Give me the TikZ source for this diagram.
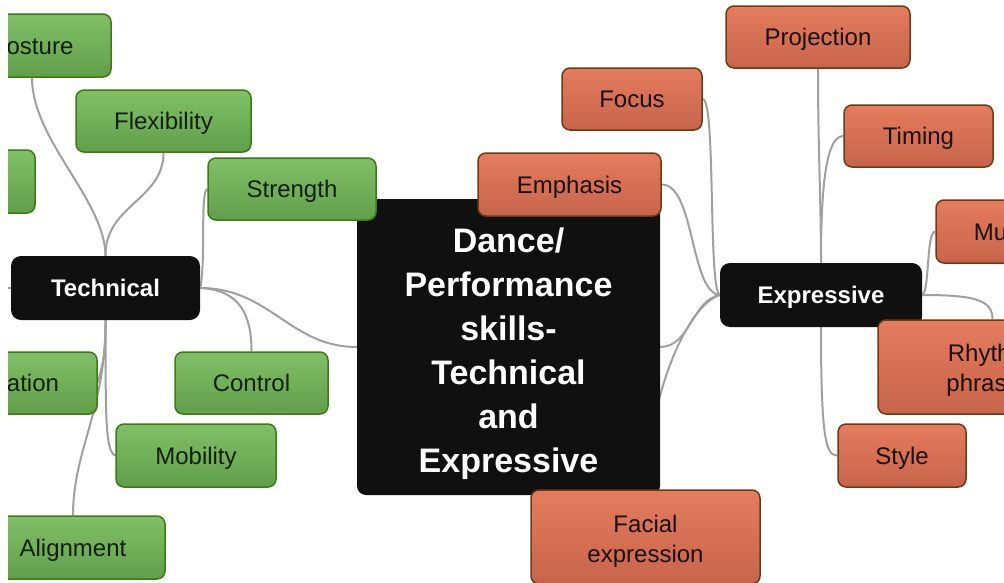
\documentclass[tikz,border=0pt]{standalone}
\usepackage{fontspec}
\setmainfont{Liberation Sans}
\definecolor{gtop}{HTML}{80C068}
\definecolor{gbot}{HTML}{629E4A}
\definecolor{gborder}{HTML}{3E7B12}
\definecolor{gtext}{HTML}{14200C}
\definecolor{otop}{HTML}{E57C5E}
\definecolor{obot}{HTML}{C6644A}
\definecolor{oborder}{HTML}{6B3C14}
\definecolor{otext}{HTML}{1A100E}
\definecolor{kfill}{HTML}{101010}
\definecolor{linegray}{HTML}{A0A0A0}
\pgfdeclarelayer{bg}
\pgfsetlayers{bg,main}
\begin{document}
\begin{tikzpicture}[x=1pt,y=-1pt,
  box/.style={rounded corners=8pt, line width=1.5pt, inner sep=0pt, align=center,
    font=\fontsize{24}{30}\selectfont},
  oneline/.style={text height=21pt, text depth=4pt},
  gbox/.style={box, draw=gborder, top color=gtop, bottom color=gbot, text=gtext},
  obox/.style={box, draw=oborder, top color=otop, bottom color=obot, text=otext},
  kbox/.style={rounded corners=10pt, fill=kfill, inner sep=0pt, text=white, align=center,
    font=\fontsize{24}{30}\selectfont\bfseries},
  link/.style={draw=linegray, line width=2pt}]
\useasboundingbox (0,0) rectangle (1004,582);
\begin{scope}
\clip (8,-20) rectangle (1004,582);
% technical side
\node[gbox, oneline, minimum width=158pt, minimum height=63pt] (posture) at (32,45.5) {Posture};
\node[gbox, oneline, minimum width=175pt, minimum height=62pt] (flex) at (163.5,121) {Flexibility};
\node[gbox, minimum width=135pt, minimum height=63pt] (hidden) at (-32.5,181.5) {};
\node[kbox, oneline, minimum width=189pt, minimum height=64pt] (tech) at (105.5,288) {Technical};
\node[gbox, oneline, minimum width=212pt, minimum height=62pt] (coord) at (-9,383) {Coordination};
\node[gbox, oneline, minimum width=153pt, minimum height=62pt] (control) at (251.5,383) {Control};
\node[gbox, oneline, minimum width=160pt, minimum height=63pt] (mob) at (196,455.5) {Mobility};
\node[gbox, oneline, minimum width=184pt, minimum height=63pt] (align) at (73,547.5) {Alignment};
% centre
\node[kbox, rounded corners=9pt, minimum width=303pt, minimum height=296pt,
  font=\fontsize{34}{44}\selectfont\bfseries] (center) at (508.5,347)
  {\rule{0pt}{38pt}Dance/\\Performance\\skills-\\Technical\\and\\Expressive};
\node[gbox, oneline, minimum width=168pt, minimum height=62pt] (strength) at (292,189) {Strength};
% expressive side
\node[obox, oneline, minimum width=184pt, minimum height=62pt] (proj) at (818,37) {Projection};
\node[obox, oneline, minimum width=140pt, minimum height=62pt] (focus) at (632,99) {Focus};
\node[obox, oneline, minimum width=149pt, minimum height=62pt] (timing) at (918.5,136) {Timing};
\node[obox, oneline, minimum width=183pt, minimum height=63pt] (emph) at (569.5,184.5) {Emphasis};
\node[obox, oneline, minimum width=181pt, minimum height=63pt] (music) at (1026.5,231.5) {Musicality};
\node[kbox, oneline, minimum width=202pt, minimum height=64pt] (expr) at (821,295) {Expressive};
\node[obox, minimum width=229pt, minimum height=94pt] (rhythm) at (992.5,367) {\rule{0pt}{24pt}Rhythm/\\phrasing};
\node[obox, oneline, minimum width=128pt, minimum height=63pt] (style) at (902,455.5) {Style};
\node[obox, minimum width=229pt, minimum height=94pt] (facial) at (645.5,537) {\rule{0pt}{25pt}Facial\\expression};
\coordinate (offleft) at (-40,288);
\end{scope}
\begin{pgfonlayer}{bg}
\fill[white] (0,0) rectangle (1004,582);
\clip (8,-20) rectangle (1004,582);
% technical connectors
\draw[link] (tech.north) .. controls (105,200) and (32,140) .. (posture.south);
\draw[link] (tech.north) .. controls (105,205) and (163.5,200) .. (flex.south);
\draw[link] (tech.east) .. controls (206,260) and (200,192) .. (strength.west);
\draw[link] (tech.east) .. controls (270,288) and (290,347) .. (center.west);
\draw[link] (tech.east) .. controls (240,290) and (251.5,315) .. (control.north);
\draw[link] (tech.south) .. controls (106,360) and (100,372) .. (coord.east);
\draw[link] (tech.south) .. controls (106,400) and (104,452) .. (mob.west);
\draw[link] (tech.south) .. controls (106,410) and (73,450) .. (align.north);
\draw[link] (tech.west) -- (offleft);
% expressive connectors
\draw[link] (emph.east) .. controls (695,185) and (690,292) .. (expr.west);
\draw[link] (focus.east) .. controls (716,100) and (708,290) .. (expr.west);
\draw[link] (center.east) .. controls (690,347) and (692,300) .. (expr.west);
\draw[link] (facial.north) .. controls (650,390) and (688,305) .. (expr.west);
\draw[link] (proj.south) .. controls (818,150) and (821,200) .. (expr.north);
\draw[link] (timing.west) .. controls (824,136) and (821,200) .. (expr.north);
\draw[link] (music.west) .. controls (926,232) and (930,290) .. (expr.east);
\draw[link] (expr.east) .. controls (975,295) and (992.5,300) .. (rhythm.north);
\draw[link] (expr.south) .. controls (821,440) and (826,455.5) .. (style.west);
\end{pgfonlayer}
\end{tikzpicture}
\end{document}
